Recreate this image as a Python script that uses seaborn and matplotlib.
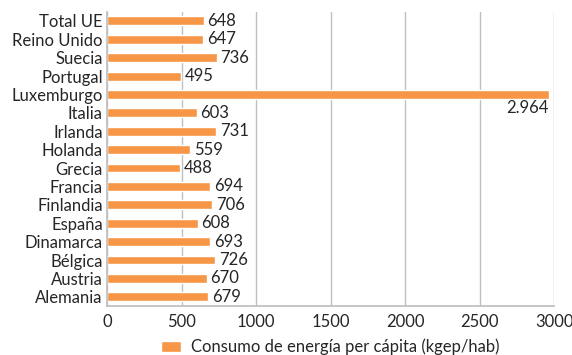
import numpy as np
import pandas as pd
import matplotlib
matplotlib.use("Agg")
import matplotlib.pyplot as plt
import seaborn as sns

paises = ["Total UE", "Reino Unido", "Suecia", "Portugal", "Luxemburgo", "Italia",
          "Irlanda", "Holanda", "Grecia", "Francia", "Finlandia", "España",
          "Dinamarca", "Bélgica", "Austria", "Alemania"]
consumo = [648, 647, 736, 495, 2964, 603, 731, 559, 488, 694, 706, 608, 693, 726, 670, 679]
etiquetas = ["648", "647", "736", "495", "2.964", "603", "731", "559", "488", "694",
             "706", "608", "693", "726", "670", "679"]
serie = "Consumo de energía per cápita (kgep/hab)"
naranja = "#F79646"

df = pd.DataFrame({"pais": paises, "consumo": consumo})

sns.set_theme(style="white")
plt.rcParams["font.family"] = ["Lato", "DejaVu Sans"]
fs = 12

fig = plt.figure(figsize=(5.72, 3.55), dpi=100)
ax = fig.add_axes([0.187, 0.138, 0.782, 0.829])

sns.barplot(data=df, x="consumo", y="pais", orient="h", color=naranja,
            width=0.48, saturation=1, ax=ax, label=serie)

ax.set_xlim(0, 3000)
ax.set_xticks(np.arange(0, 3001, 500))
ax.set_xticklabels([str(v) for v in range(0, 3001, 500)], fontsize=fs)
ax.xaxis.grid(True, color="#BFBFBF", lw=1)
ax.set_axisbelow(True)
ax.tick_params(axis="x", length=4, color="#BFBFBF", pad=2)
ax.tick_params(axis="y", length=0, labelsize=fs, pad=3)
ax.set_yticks(np.arange(-0.5, len(paises), 1), minor=True)
ax.tick_params(axis="y", which="minor", length=4, color="#BFBFBF")
ax.set_xlabel("")
ax.set_ylabel("")
for s in ["top", "right"]:
    ax.spines[s].set_visible(False)
for s in ["left", "bottom"]:
    ax.spines[s].set_color("#BFBFBF")

for i, (v, t) in enumerate(zip(consumo, etiquetas)):
    if v > 2500:
        ax.text(v, i + 0.3, t, ha="right", va="top", fontsize=fs)
    else:
        ax.text(v + 25, i, t, ha="left", va="center", fontsize=fs)

ax.legend(loc="upper center", bbox_to_anchor=(0.5, -0.06), frameon=False,
          fontsize=fs, handlelength=1.2, handleheight=0.7, handletextpad=0.6)

fig.savefig("out.png", dpi=100)
